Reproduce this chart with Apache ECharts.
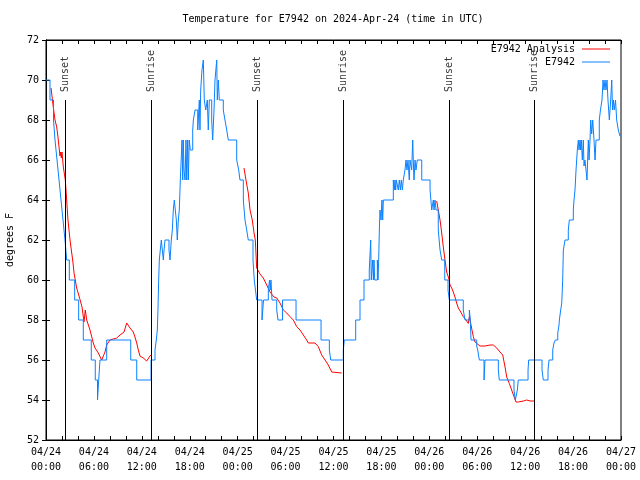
<!DOCTYPE html>
<html><head><meta charset="utf-8">
<script src="https://cdn.jsdelivr.net/npm/echarts@6/dist/echarts.min.js"></script>
<style>html,body{margin:0;padding:0;background:#fff}#c{width:640px;height:480px}</style>
</head><body><div id="c"></div>
<script>
// hours since 2024-04-24 00:00 UTC
const xTickLabels = ['04/24\n00:00','04/24\n06:00','04/24\n12:00','04/24\n18:00','04/25\n00:00','04/25\n06:00','04/25\n12:00','04/25\n18:00','04/26\n00:00','04/26\n06:00','04/26\n12:00','04/26\n18:00','04/27\n00:00'];
const sunHours = [2.42, 13.19, 26.46, 37.23, 50.50, 61.14];
const sunNames = ['Sunset','Sunrise','Sunset','Sunrise','Sunset','Sunrise'];

const blueHours = [0,0.50,0.94,1.13,1.38,1.63,1.88,2.13,2.38,2.59,2.92,3.59,4.09,4.67,5.67,6.17,6.45,6.60,6.76,7.60,10.61,11.36,13.15,
13.65,13.81,13.94,14.02,14.11,14.19,14.31,14.44,14.69,14.78,14.90,15.40,15.53,15.69,15.82,15.94,16.07,16.19,16.32,16.44,16.57,16.69,16.82,17.03,17.12,17.19,17.28,17.41,17.53,17.62,17.74,17.82,17.94,18.07,18.37,18.45,18.66,19.00,19.20,19.28,19.37,19.53,19.70,19.82,20.00,20.20,20.32,20.45,20.75,20.87,21.04,21.16,21.38,21.45,21.58,21.70,22.20,22.41,22.63,22.83,23.88,24.13,24.29,24.71,24.92,25.13,25.33,25.92,26.08,26.23,26.38,27.05,27.24,27.84,27.99,28.07,28.17,28.30,28.89,29.05,29.61,31.31,34.44,35.48,35.65,37.23,37.35,38.78,39.32,39.82,
40.48,40.66,40.73,40.91,40.99,41.07,41.16,41.49,41.57,41.66,41.74,41.82,41.95,42.07,42.16,42.24,43.49,43.61,43.70,43.79,43.87,44.11,44.24,44.37,44.49,44.62,44.74,44.95,45.08,45.20,45.33,45.49,45.58,45.79,45.92,45.99,46.08,46.21,46.33,46.49,47.05,48.09,48.30,48.50,48.59,48.71,48.84,49.12,49.34,49.55,49.93,50.34,50.50,52.25,52.47,53.01,53.13,53.22,53.93,54.06,54.26,54.85,54.97,56.64,56.76,58.60,58.77,59.02,59.14,60.36,60.44,62.11,62.27,62.86,62.99,63.45,63.61,63.78,64.08,64.24,64.28,64.45,64.58,64.70,64.78,64.99,65.40,65.53,66.03,66.12,66.24,66.37,66.53,66.66,66.74,66.87,66.95,67.03,67.16,67.28,67.37,67.49,67.62,67.74,67.91,68.00,68.12,68.21,68.33,68.46,68.62,68.75,68.87,69.28,69.43,69.62,69.75,69.87,70.00,70.12,70.25,70.37,70.54,70.71,70.84,70.94,71.04,71.16,71.31,71.46,71.66,71.87,72];
const blueTemps = [70,69,68,67,66,65,64,63,62,61,60,59,58,57,56,55,54,55,56,57,56,55,56,
56.5,57,57.5,58.5,60,61,61.5,62,61,61.5,62,61.5,61,62,62.5,63.5,64,63.5,63,62,63,63.5,65,67,65,67,65.5,65,67,65,67,65,67,66.5,67.5,68,68.5,67.5,69,67.5,69.5,70.5,71,69,68.5,69,67.5,69,68,67,68.5,70,71,69,70,69,68.5,68,67.5,67,66,65.5,65,64,63,62.5,62,61,60,59.5,59,58,59,59.5,60,59.5,60,59,58.5,58,59,58,57,56.5,56,56.5,57,58,59,60,
60.5,62,60,61,60,61,60,61,60,61,62.5,63.5,63,64,63,64,65,64.5,65,64.5,65,64.5,65,64.5,65,64.5,65,65.5,66,65.5,66,65,66,65.5,67,66,65,66,65.5,66,65,64.5,63.5,64,63.5,64,63.5,62.5,61.5,61,60,59.5,59,58.5,58,58.5,58,57,56.7,56.5,56,55,56,55.5,55,54.5,54,54.5,55,55.5,56,55.5,55,55.5,56,56.5,56.85,57,57.35,57.75,58,58.5,58.85,60,61.5,62,62.5,63,63.5,64,64.5,65.5,66.5,67,66.5,67,66.5,67,66,67,65.7,66,65.5,65,67,66,67,68,67.3,68,67,66,67,68,68.5,69,70,69.5,70,69.5,70,69,68,69,70,68.5,69,68.5,69,68,67.5,67.2,67.2];

const red1Hours = [0.63,0.91,1.13,1.34,1.50,1.67,1.75,1.84,1.92,2.00,2.17,2.42,2.59,2.75,3.01,3.17,3.34,3.51,3.84,4.17,4.51,4.76,4.92,5.10,5.26,5.51,5.92,6.14,6.55,6.97,7.39,7.60,8.01,8.85,9.27,9.77,10.11,10.52,10.93,11.14,11.36,11.56,11.77,12.18,12.61,12.81,13.02,13.15];
const red1Temps = [69.6,68.65,68,67.65,67.15,66.5,66.2,66.4,66.1,66.4,65.65,65,64,63,62,61.5,61,60.35,59.6,59.15,58.65,57.9,58.5,58,58,57.5,56.85,56.6,56.35,56,56.4,56.75,57,57.1,57.25,57.4,57.85,57.6,57.4,57.15,56.85,56.5,56.2,56.1,55.95,55.85,56.2,56.25];
const red2Hours = [24.79,25.04,25.33,25.55,25.83,26.05,26.21,26.38,26.80,27.21,27.64,28.05,28.55,28.89,28.99,29.30,29.72,30.14,30.55,30.97,31.39,31.81,32.22,32.64,32.85,33.68,34.10,34.52,34.94,35.35,35.78,35.98,37.03];
const red2Temps = [65.6,65,64.35,63.5,63,62.35,62,60.6,60.3,60.1,59.75,59.4,59.15,59.1,59.2,58.85,58.5,58.35,58.17,58,57.67,57.5,57.25,57,56.85,56.85,56.67,56.25,56,55.75,55.4,55.35,55.35];
const red3Hours = [48.92,49.12,49.34,49.55,49.75,49.96,50.17,50.42,50.59,50.80,51.00,51.21,51.42,51.63,51.93,52.25,52.59,52.88,53.03,53.09,53.18,53.34,53.51,53.72,53.93,54.34,54.97,55.60,56.01,56.44,56.85,57.19,57.48,57.69,58.01,58.31,58.60,58.85,59.14,59.77,60.19,60.61,61.11];
const red3Temps = [63.95,63.5,63,62.35,61.65,61,60.4,60.1,59.75,59.6,59.4,59.15,58.85,58.6,58.4,58.17,58,57.83,58.2,58.25,57.83,57.5,57.17,56.9,56.8,56.7,56.7,56.75,56.75,56.6,56.4,56.25,55.65,55.15,54.83,54.5,54.17,53.9,53.9,53.95,54,53.95,53.95];

const FONT = 'DejaVu Sans Mono';
const zip = (a, b) => a.map((v, i) => [v, b[i]]);
const RED = '#ff0000', BLUE = '#0a80ff';

const chart = echarts.init(document.getElementById('c'), null, {renderer: 'canvas'});
const redSeries = (h, t) => ({
  name: 'E7942 Analysis', type: 'line', data: zip(h, t), symbol: 'none', showSymbol: false, silent: true,
  lineStyle: {color: RED, width: 1}, itemStyle: {color: RED}, z: 3, animation: false
});
const textStyle = {fontFamily: FONT, fontSize: 10, color: '#000'};
const legendBase = {right: 30, align: 'right', icon: 'rect', itemWidth: 28, itemHeight: 1, padding: 0,
  textStyle: Object.assign({padding: [0, 2, 0, 0]}, textStyle)};
chart.setOption({
  animation: false,
  title: {text: 'Temperature for E7942 on 2024-Apr-24 (time in UTC)', left: 333, textAlign: 'center', top: 14, padding: 0,
    textStyle: {fontFamily: FONT, fontSize: 10, fontWeight: 'normal', color: '#000'}},
  legend: [
    Object.assign({data: ['E7942 Analysis'], top: 44}, legendBase),
    Object.assign({data: ['E7942'], top: 57}, legendBase)
  ],
  grid: {left: 46, right: 19, top: 40, bottom: 40, containLabel: false, outerBoundsMode: 'none',
    show: true, borderColor: '#000', borderWidth: 1, backgroundColor: 'transparent'},
  xAxis: [
    {type: 'value', min: 0, max: 72, interval: 2, position: 'bottom',
     axisLine: {lineStyle: {color: '#000'}}, splitLine: {show: false},
     axisTick: {inside: true, length: 4, lineStyle: {color: '#000'}},
     axisLabel: Object.assign({margin: 5, lineHeight: 15, showMinLabel: true, showMaxLabel: true, hideOverlap: false,
       formatter: v => (v % 6 === 0 ? xTickLabels[v / 6] : '')}, textStyle)},
    {type: 'value', min: 0, max: 72, interval: 2, position: 'top',
     axisLine: {lineStyle: {color: '#000'}}, splitLine: {show: false},
     axisTick: {inside: true, length: 4, lineStyle: {color: '#000'}}, axisLabel: {show: false}}
  ],
  yAxis: [
    {type: 'value', min: 52, max: 72, interval: 2, position: 'left', name: 'degrees F', nameLocation: 'middle', nameGap: 31,
     nameRotate: 90, nameTextStyle: textStyle,
     axisLine: {show: true, lineStyle: {color: '#000'}}, splitLine: {show: false},
     axisTick: {show: true, inside: true, length: 4, lineStyle: {color: '#000'}},
     axisLabel: Object.assign({margin: 7}, textStyle)},
    {type: 'value', min: 52, max: 72, interval: 2, position: 'right',
     axisLine: {show: true, lineStyle: {color: '#000'}}, splitLine: {show: false},
     axisTick: {show: true, inside: true, length: 4, lineStyle: {color: '#000'}}, axisLabel: {show: false}}
  ],
  series: [
    {name: 'sun', type: 'line', data: [], symbol: 'none', silent: true, z: 1,
     markLine: {symbol: 'none', silent: true, animation: false, label: {show: false},
       lineStyle: {color: '#000', width: 1, type: 'solid'},
       data: sunHours.map(h => [{coord: [h, 52]}, {coord: [h, 69]}])}},
    {name: 'sunLabels', type: 'scatter', symbolSize: 0, silent: true, z: 1,
     data: sunHours.map((h, i) => [h, 69, sunNames[i]]),
     label: {show: true, position: 'top', distance: 8, rotate: 90, align: 'left', verticalAlign: 'middle',
       formatter: p => p.value[2], fontFamily: FONT, fontSize: 10, color: '#000'}},
    redSeries(red1Hours, red1Temps),
    redSeries(red2Hours, red2Temps),
    redSeries(red3Hours, red3Temps),
    {name: 'E7942', type: 'line', step: 'end', data: zip(blueHours, blueTemps), symbol: 'none', showSymbol: false, silent: true,
     lineStyle: {color: BLUE, width: 1}, itemStyle: {color: BLUE}, z: 4}
  ]
});
</script></body></html>
